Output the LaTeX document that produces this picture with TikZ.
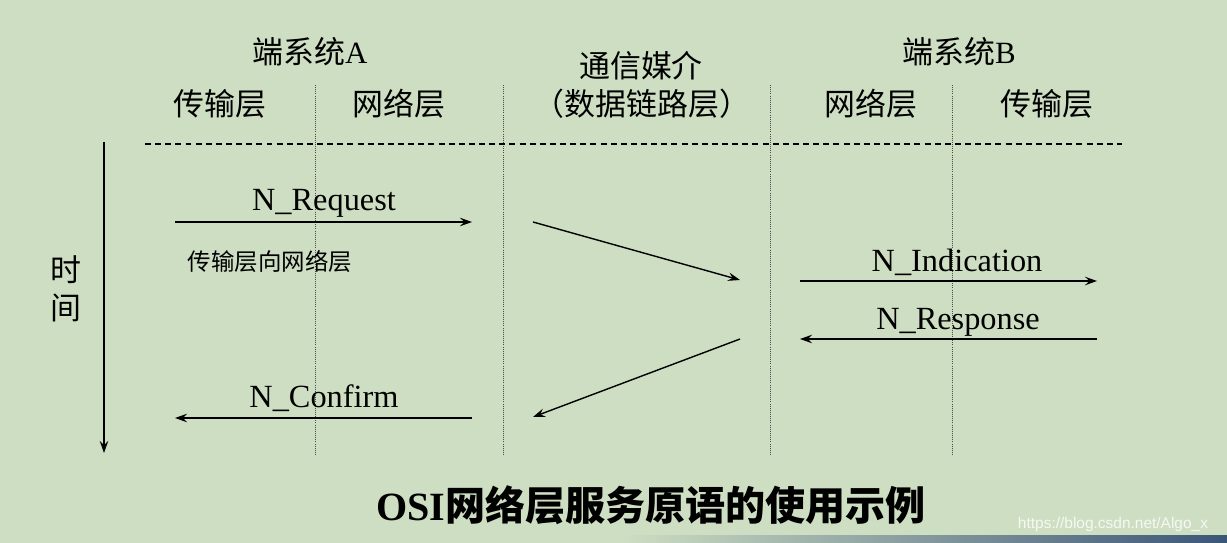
\documentclass[tikz,border=0pt]{standalone}
\usepackage{fontspec}
\setmainfont{Liberation Serif}
\newfontfamily\cjk{Noto Sans CJK SC}
\newfontfamily\wmfont{Liberation Sans}
\usetikzlibrary{arrows.meta}
\definecolor{slidebg}{RGB}{206,222,195}
\definecolor{barblue}{RGB}{59,85,119}

\begin{document}
\begin{tikzpicture}[x=0.025cm,y=-0.025cm,
  hdr/.style={anchor=base,inner sep=0pt,font=\fontsize{22}{26}\selectfont},
  prim/.style={anchor=base,inner sep=0pt,font=\fontsize{23}{27}\selectfont},
  msg/.style={-{Stealth[length=8.5pt,width=6pt,inset=3pt]},line width=1pt},
  lane/.style={densely dotted,line width=0.5pt,black!70}]
\useasboundingbox (0,0) rectangle (1227,543);
\fill[slidebg] (0,0) rectangle (1227,543);
\shade[left color=slidebg,right color=barblue] (620,535) rectangle (1227,543);

% column headers
\node[hdr] (sysA) at (310,64) {{\cjk 端系统}A};
\node[hdr] (sysB) at (959,64) {{\cjk 端系统}B};
\node[hdr] (medium) at (641,78) {\cjk 通信媒介};
\node[hdr] (dll) at (642,116) {\cjk （数据链路层）};
\node[hdr] (tpA) at (220,116) {\cjk 传输层};
\node[hdr] (nwA) at (399,116) {\cjk 网络层};
\node[hdr] (nwB) at (871,116) {\cjk 网络层};
\node[hdr] (tpB) at (1047,116) {\cjk 传输层};

% lanes and separator
\foreach \x in {315,503,770,952}
  \draw[lane] (\x,85) -- (\x,455);
\draw[dash pattern=on 4.2pt off 3pt,line width=0.8pt] (145,144) -- (1122,144);

% time axis
\coordinate (t0) at (104,142);
\coordinate (t1) at (104,453);
\draw[msg] (t0) -- (t1);
\node[hdr] (shi) at (66,282) {\cjk 时};
\node[hdr] (jian) at (66,319) {\cjk 间};

% primitives
\coordinate (reqS) at (175,222);
\coordinate (reqE) at (472,222);
\coordinate (d1S) at (533,222);
\coordinate (d1E) at (740,280);
\coordinate (indS) at (800,281);
\coordinate (indE) at (1097,281);
\coordinate (rspS) at (1097,339);
\coordinate (rspE) at (800,339);
\coordinate (d2S) at (740,339);
\coordinate (d2E) at (533,417);
\coordinate (cfmS) at (472,418);
\coordinate (cfmE) at (175,418);
\draw[msg] (reqS) -- (reqE);
\draw[msg] (d1S) -- (d1E);
\draw[msg] (indS) -- (indE);
\draw[msg] (rspS) -- (rspE);
\draw[msg] (d2S) -- (d2E);
\draw[msg] (cfmS) -- (cfmE);
\node[prim] (req) at (324,211) {N\_Request};
\node[prim] (ind) at (957,272) {N\_Indication};
\node[prim] (rsp) at (958,330) {N\_Response};
\node[prim] (cfm) at (324,407) {N\_Confirm};
\node[anchor=base,inner sep=0pt,font=\fontsize{16.7}{20}\selectfont\cjk] (tp2nw) at (270,271) {传输层向网络层};

% caption
\node[anchor=base,inner sep=0pt,font=\fontsize{28.5}{34}\selectfont\bfseries] (title) at (651,520) {OSI{\cjk 网络层服务原语的使用示例}};
\node[inner sep=0pt,text=white,opacity=0.8,font=\wmfont\fontsize{11}{13}\selectfont] (wm) at (1113,524) {https://blog.csdn.net/Algo\_x};
\end{tikzpicture}
\end{document}
